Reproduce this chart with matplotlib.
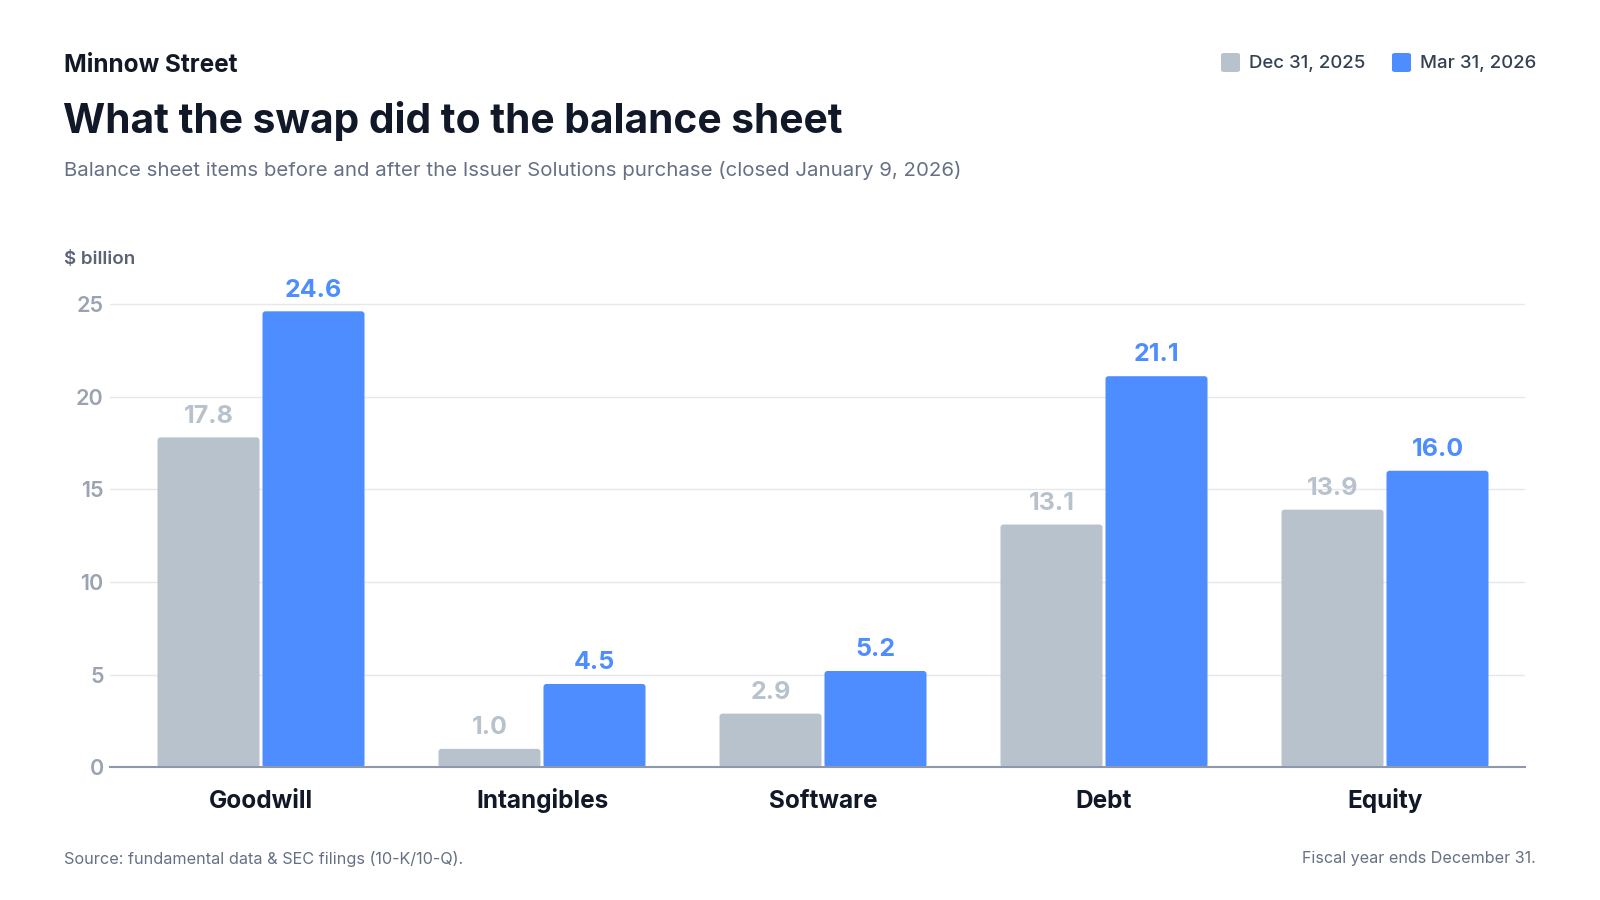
import matplotlib
matplotlib.use("Agg")
import matplotlib.pyplot as plt
from matplotlib.patches import FancyBboxPatch
import numpy as np

categories = ["Goodwill", "Intangibles", "Software", "Debt", "Equity"]
dec_2025 = [17.8, 1.0, 2.9, 13.1, 13.9]
mar_2026 = [24.6, 4.5, 5.2, 21.1, 16.0]
series_names = ["Dec 31, 2025", "Mar 31, 2026"]
yticks = [0, 5, 10, 15, 20, 25]

GREY = "#b8c2cc"
BLUE = "#4d8dff"
DARK = "#111827"
SLATE = "#667085"
TICK = "#9aa3b2"
LEGTXT = "#344054"

plt.rcParams['font.family'] = ['Inter', 'DejaVu Sans']

W, H = 1600, 900
fig = plt.figure(figsize=(16, 9), dpi=100)
fig.patch.set_facecolor("white")

# axes geometry in pixels
ax_left, ax_right = 110, 1525
ax_bottom = 767.4
px_per_unit = 18.54
ymax = 26.5
ax_top = ax_bottom - ymax * px_per_unit
ax = fig.add_axes([ax_left / W, 1 - ax_bottom / H, (ax_right - ax_left) / W, (ax_bottom - ax_top) / H])

x = np.arange(len(categories))
band_px = 281.0
bw = 102 / band_px
gap = 3 / band_px
b1 = ax.bar(x - (bw + gap) / 2, dec_2025, width=bw, color=GREY, zorder=3)
b2 = ax.bar(x + (bw + gap) / 2, mar_2026, width=bw, color=BLUE, zorder=3)

left_units = (261 - ax_left) / band_px
ax.set_xlim(-left_units, -left_units + (ax_right - ax_left) / band_px)
ax.set_ylim(0, ymax)

# rounded corners on the bars (same geometry as the bars)
radius_px = 3.0
aspect = band_px / px_per_unit
for bars, col in [(b1, GREY), (b2, BLUE)]:
    for rect in bars:
        rect.set_visible(False)
        fb = FancyBboxPatch((rect.get_x(), rect.get_y()), rect.get_width(), rect.get_height(),
                            boxstyle=f"round,pad=0,rounding_size={radius_px / band_px}",
                            mutation_aspect=aspect, facecolor=col, edgecolor="none", zorder=3)
        ax.add_patch(fb)

for bars, vals, col in [(b1, dec_2025, GREY), (b2, mar_2026, BLUE)]:
    for rect, v in zip(bars, vals):
        ax.annotate(f"{v:.1f}", (rect.get_x() + rect.get_width() / 2, v),
                    xytext=(0, 7), textcoords="offset points", ha="center", va="bottom",
                    fontsize=18, fontweight="bold", color=col)

ax.set_yticks(yticks)
ax.set_yticklabels([str(t) for t in yticks])
ax.tick_params(axis="y", length=0, pad=4.5, labelsize=15.5, labelcolor=TICK)
ax.set_xticks(x)
ax.set_xticklabels(categories)
ax.tick_params(axis="x", length=0, pad=29.5, labelsize=17.5, labelcolor=DARK)
for lab in ax.get_xticklabels():
    lab.set_fontweight("bold")
    lab.set_verticalalignment("baseline")
for lab in ax.get_yticklabels():
    lab.set_fontweight("semibold")

for t in yticks[1:]:
    ax.axhline(t, color="#e6e8ec", lw=1.0, zorder=1)
for s in ["top", "right", "left"]:
    ax.spines[s].set_visible(False)
ax.spines["bottom"].set_color("#8f98aa")
ax.spines["bottom"].set_linewidth(1.5)
ax.spines["bottom"].set_zorder(4)

def fy(py):
    return 1 - py / H

def fx(px):
    return px / W

fig.text(fx(64), fy(65), "Minnow Street", fontsize=17.5, fontweight="bold", color=DARK, va="center", ha="left")
fig.text(fx(63), fy(121), "What the swap did to the balance sheet", fontsize=29.3, fontweight="bold",
         color=DARK, va="center", ha="left")
fig.text(fx(64), fy(171), "Balance sheet items before and after the Issuer Solutions purchase (closed January 9, 2026)",
         fontsize=14.7, color=SLATE, va="center", ha="left")
fig.text(fx(64), fy(259), "$ billion", fontsize=13.5, fontweight="semibold", color="#5b6476", va="center", ha="left")

fig.text(fx(64), fy(859), "Source: fundamental data & SEC filings (10-K/10-Q).", fontsize=11.7, color=SLATE,
         va="center", ha="left")
fig.text(fx(1536), fy(859), "Fiscal year ends December 31.", fontsize=11.6, color=SLATE, va="center", ha="right")

# legend
leg_items = [(1221, GREY, series_names[0]), (1392, BLUE, series_names[1])]
for px, col, name in leg_items:
    sq = FancyBboxPatch((fx(px), fy(72)), 19 / W, 19 / H, boxstyle="round,pad=0,rounding_size=0.002",
                        transform=fig.transFigure, facecolor=col, edgecolor="none")
    fig.patches.append(sq)
    fig.text(fx(px + 28), fy(64), name, fontsize=13.4, fontweight="medium", color=LEGTXT, va="center", ha="left")

fig.savefig("out.png", dpi=100, facecolor="white")
